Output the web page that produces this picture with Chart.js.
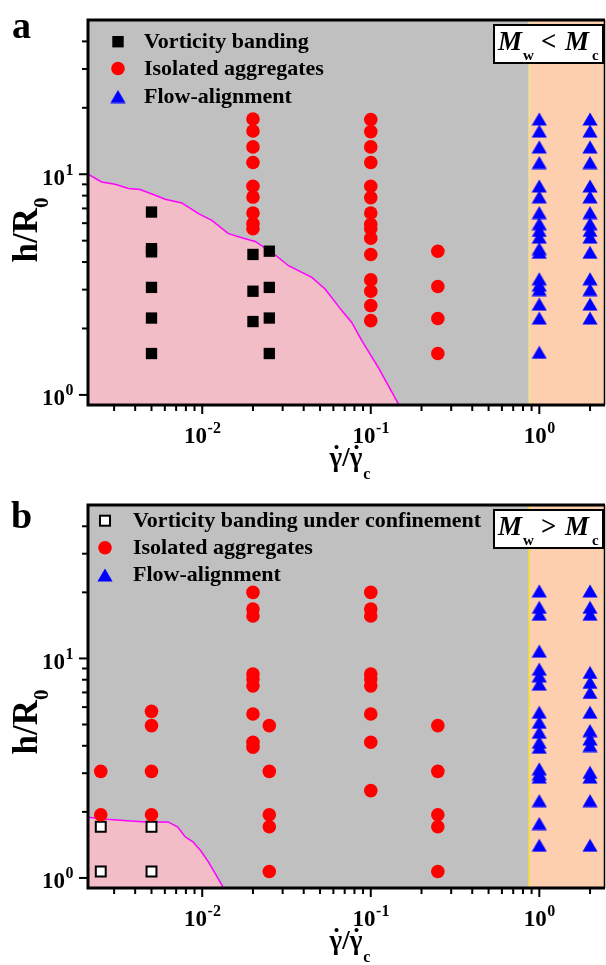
<!DOCTYPE html>
<html>
<head>
<meta charset="utf-8">
<script src="https://cdn.jsdelivr.net/npm/chart.js@4.4.0/dist/chart.umd.min.js"></script>
<style>
html,body{margin:0;padding:0;background:#fff;}
#wrap{position:relative;width:606px;height:965px;}
canvas{position:absolute;left:0;}
</style>
</head>
<body>
<div id="wrap">
<canvas id="chartA" width="606" height="482" style="top:0px"></canvas>
<canvas id="chartB" width="606" height="483" style="top:482px"></canvas>
</div>
<script>
// axis ranges (shear rate ratio, h/R0)
const xMin = 0.0021, xMax = 2.42;
const yMin = 0.9, yMax = 50;
const flowBoundary = 0.87;   // start of the flow-aligned (orange) zone

// ---- panel a : Mw < Mc ----
const aBandX = [0.005, 0.005, 0.005, 0.005, 0.005, 0.005, 0.02, 0.02, 0.02, 0.025, 0.025, 0.025, 0.025];
const aBandY = [6.74, 4.6, 4.45, 3.07, 2.23, 1.54, 4.33, 2.95, 2.15, 4.48, 3.07, 2.23, 1.54];

const aAggX = [0.02, 0.02, 0.02, 0.02, 0.02, 0.02, 0.02, 0.02, 0.02,
  0.1, 0.1, 0.1, 0.1, 0.1, 0.1, 0.1, 0.1, 0.1, 0.1, 0.1, 0.1, 0.1, 0.1, 0.1,
  0.25, 0.25, 0.25, 0.25];
const aAggY = [17.8, 15.7, 13.3, 11.3, 8.82, 7.88, 6.67, 5.97, 5.66,
  17.7, 15.6, 13.3, 11.3, 8.82, 7.83, 6.67, 5.93, 5.66, 5.13, 4.33, 3.32, 2.95, 2.54, 2.17,
  4.48, 3.1, 2.22, 1.54];

const aFlowX = [1, 1, 1, 1, 1, 1, 1, 1, 1, 1, 1, 1, 1, 1, 1, 1, 1, 1,
  2, 2, 2, 2, 2, 2, 2, 2, 2, 2, 2, 2, 2, 2, 2];
const aFlowY = [17.8, 15.7, 13.3, 11.3, 8.85, 7.9, 6.7, 5.97, 5.56, 5.19, 4.6, 4.43, 3.36, 3.15, 3.0, 2.58, 2.23, 1.56,
  17.8, 15.7, 13.3, 11.3, 8.85, 7.9, 6.7, 5.97, 5.56, 5.19, 4.43, 3.36, 3.0, 2.58, 2.23];

const aCurveX = [0.0021, 0.00253, 0.00304, 0.00365, 0.00428, 0.00526, 0.00603, 0.00757, 0.0095, 0.0114, 0.0143,
  0.018, 0.0206, 0.0259, 0.0325, 0.0447, 0.0536, 0.0673, 0.0771, 0.0885, 0.111, 0.15];
const aCurveY = [10.0, 9.23, 9.01, 8.61, 8.52, 8.03, 7.7, 7.41, 6.63, 6.18, 5.38,
  5.1, 4.96, 4.43, 3.85, 3.41, 3.02, 2.41, 2.13, 1.76, 1.33, 0.875];

// ---- panel b : Mw > Mc ----
const bBandX = [0.0025, 0.0025, 0.005, 0.005];
const bBandY = [1.71, 1.07, 1.71, 1.07];

const bAggX = [0.0025, 0.0025,
  0.005, 0.005, 0.005, 0.005,
  0.02, 0.02, 0.02, 0.02, 0.02, 0.02, 0.02, 0.02, 0.02,
  0.025, 0.025, 0.025, 0.025, 0.025,
  0.1, 0.1, 0.1, 0.1, 0.1, 0.1, 0.1, 0.1, 0.1,
  0.25, 0.25, 0.25, 0.25, 0.25];
const bAggY = [3.06, 1.94,
  5.74, 4.94, 3.06, 1.94,
  20, 16.8, 15.6, 8.49, 8.06, 7.5, 5.58, 4.15, 3.94,
  4.94, 3.06, 1.94, 1.71, 1.07,
  20, 16.8, 15.6, 8.49, 8.06, 7.5, 5.58, 4.15, 2.5,
  4.94, 3.06, 1.94, 1.71, 1.07];

const bFlowX = [1, 1, 1, 1, 1, 1, 1, 1, 1, 1, 1, 1, 1, 1, 1, 1, 1, 1,
  2, 2, 2, 2, 2, 2, 2, 2, 2, 2, 2, 2, 2, 2];
const bFlowY = [20.3, 17.1, 15.9, 10.8, 8.94, 8.33, 7.64, 5.69, 5.12, 4.61, 4.15, 3.94, 3.14, 2.98, 2.88, 2.25, 1.77, 1.41,
  20.3, 17.1, 15.9, 8.63, 7.78, 7.0, 5.69, 4.69, 4.3, 4.01, 3.03, 2.88, 2.25, 1.41];

const bCurveX = [0.0021, 0.00274, 0.00357, 0.00466, 0.00627, 0.00713, 0.00792, 0.00881, 0.0098, 0.0109, 0.0121, 0.0135];
const bCurveY = [1.89, 1.85, 1.82, 1.80, 1.80, 1.71, 1.54, 1.46, 1.33, 1.18, 1.03, 0.89];

const SERIF = '"Liberation Serif", "Times New Roman", serif';

function pts(xs, ys){
    let out = [];
    for(let i=0;i<xs.length;i++){
        out.push({x: xs[i], y: ys[i]});
    }
    return out;
}

// blue triangle marker, centred on its bounding box like the original
function makeTriangle(){
    const c = document.createElement('canvas');
    c.width = 16; c.height = 14;
    const g = c.getContext('2d');
    g.fillStyle = '#0000ff';
    g.beginPath();
    g.moveTo(8, 0.5);
    g.lineTo(15.6, 13.5);
    g.lineTo(0.4, 13.5);
    g.closePath();
    g.fill();
    return c;
}
const triImg = makeTriangle();

function drawMarker(ctx, kind, x, y){
    ctx.save();
    if(kind=='square'){
        ctx.fillStyle = '#000';
        ctx.fillRect(x-5.7, y-5.7, 11.4, 11.4);
    } else if(kind=='open'){
        ctx.fillStyle = '#fff';
        ctx.fillRect(x-5, y-5, 10, 10);
        ctx.strokeStyle = '#000';
        ctx.lineWidth = 2;
        ctx.strokeRect(x-5, y-5, 10, 10);
    } else if(kind=='circle'){
        ctx.fillStyle = '#ff0000';
        ctx.beginPath();
        ctx.arc(x, y, 6.8, 0, Math.PI*2);
        ctx.fill();
    } else {
        ctx.drawImage(triImg, x-8, y-7);
    }
    ctx.restore();
}

// "10" with a superscript exponent
function powWidth(ctx, exp){
    ctx.font = 'bold 23px ' + SERIF;
    let w = ctx.measureText('10').width;
    ctx.font = 'bold 16px ' + SERIF;
    return w + ctx.measureText(exp).width;
}
function drawPow(ctx, exp, left, base){
    ctx.font = 'bold 23px ' + SERIF;
    ctx.fillText('10', left, base);
    let w = ctx.measureText('10').width;
    ctx.font = 'bold 16px ' + SERIF;
    ctx.fillText(exp, left + w + 0.5, base - 10);
}

// gamma with a dot above it, returns advance width
function dotGamma(ctx, x, base){
    ctx.font = 'bold 27px ' + SERIF;
    const w = ctx.measureText('γ').width;
    ctx.fillText('γ', x, base);
    ctx.textAlign = 'center';
    ctx.fillText('\u02D9', x + w/2 + 0.5, base - 2);
    ctx.textAlign = 'left';
    return w;
}

function panelPlugin(p){
    return {
        id: 'panel' + p.letter,
        beforeDraw(chart){
            const ctx = chart.ctx;
            const a = chart.chartArea;
            const xs = chart.scales.x;
            ctx.save();
            ctx.fillStyle = '#fff';
            ctx.fillRect(0, 0, chart.width, chart.height);
            ctx.fillStyle = '#c0c0c0';
            ctx.fillRect(a.left, a.top, a.right - a.left, a.bottom - a.top);
            const bx = xs.getPixelForValue(flowBoundary);
            ctx.fillStyle = '#fdcfae';
            ctx.fillRect(bx, a.top, a.right - bx, a.bottom - a.top);
            ctx.strokeStyle = p.yellow;
            ctx.lineWidth = 1.5;
            ctx.beginPath();
            ctx.moveTo(bx, a.top);
            ctx.lineTo(bx, a.bottom);
            ctx.stroke();
            ctx.restore();
        },
        afterDraw(chart){
            const ctx = chart.ctx;
            const a = chart.chartArea;
            const xs = chart.scales.x;
            const ys = chart.scales.y;
            ctx.save();
            ctx.fillStyle = '#000';
            ctx.strokeStyle = '#000';

            // frame
            ctx.lineWidth = 1.5;
            ctx.beginPath();
            ctx.moveTo(a.right + 0.5, a.top);
            ctx.lineTo(a.right + 0.5, a.bottom);
            ctx.stroke();
            ctx.lineWidth = 3;
            ctx.beginPath();
            ctx.moveTo(a.right + 1, a.top);
            ctx.lineTo(a.left, a.top);
            ctx.lineTo(a.left, a.bottom);
            ctx.lineTo(a.right + 1, a.bottom);
            ctx.stroke();

            // ticks
            ctx.lineWidth = 2;
            for(let e=-3;e<=1;e++){
                for(let m=1;m<=9;m++){
                    const v = m*Math.pow(10, e);
                    if(v<=xMin*1.02 || v>=xMax*0.99) continue;
                    const px = xs.getPixelForValue(v);
                    ctx.beginPath();
                    ctx.moveTo(px, a.bottom + 1);
                    ctx.lineTo(px, a.bottom + (m==1 ? 9 : 6));
                    ctx.stroke();
                }
            }
            for(let e=-1;e<=1;e++){
                for(let m=1;m<=9;m++){
                    const v = m*Math.pow(10, e);
                    if(v<=yMin*1.02 || v>=yMax*0.99) continue;
                    const py = ys.getPixelForValue(v);
                    ctx.beginPath();
                    ctx.moveTo(a.left - 1, py);
                    ctx.lineTo(a.left - (m==1 ? 9 : 6), py);
                    ctx.stroke();
                }
            }

            // tick labels
            ctx.textAlign = 'left';
            ctx.textBaseline = 'alphabetic';
            [[0.01,'-2'],[0.1,'-1'],[1,'0']].forEach(t => {
                const px = xs.getPixelForValue(t[0]);
                const w = powWidth(ctx, t[1]);
                drawPow(ctx, t[1], px - w/2, a.bottom + 38);
            });
            [[1,'0'],[10,'1']].forEach(t => {
                const py = ys.getPixelForValue(t[0]);
                const w = powWidth(ctx, t[1]);
                drawPow(ctx, t[1], 73 - w, py + 10.5);
            });

            // x title: gamma-dot / gamma-dot_c
            const cx = (a.left + a.right)/2 + 4;
            ctx.font = 'bold 27px ' + SERIF;
            const wg = ctx.measureText('γ').width;
            const wsl = ctx.measureText('/').width;
            ctx.font = 'bold 16px ' + SERIF;
            const wsub = ctx.measureText('c').width;
            const total = wg*2 + wsl + wsub + 1;
            let x0 = cx - total/2;
            const base = a.bottom + 61;
            x0 += dotGamma(ctx, x0, base);
            ctx.font = 'bold 27px ' + SERIF;
            ctx.fillText('/', x0, base);
            x0 += wsl;
            x0 += dotGamma(ctx, x0, base);
            ctx.font = 'bold 16px ' + SERIF;
            ctx.fillText('c', x0 + 1, base + 13);

            // y title
            ctx.save();
            ctx.translate(37, p.yTitle);
            ctx.rotate(-Math.PI/2);
            ctx.font = 'bold 35px ' + SERIF;
            const wh = ctx.measureText('h/R').width;
            ctx.font = 'bold 21px ' + SERIF;
            const w0 = ctx.measureText('0').width;
            ctx.font = 'bold 35px ' + SERIF;
            ctx.fillText('h/R', -(wh + w0)/2, 0);
            ctx.font = 'bold 21px ' + SERIF;
            ctx.fillText('0', -(wh + w0)/2 + wh, 11);
            ctx.restore();

            // panel letter
            ctx.font = 'bold 38px ' + SERIF;
            ctx.fillText(p.letter, p.letterX, p.letterY);

            // legend
            ctx.font = 'bold 22px ' + SERIF;
            p.legend.forEach((row, i) => {
                const y = p.legendY[i];
                drawMarker(ctx, row[0], p.legendMarkX, y);
                ctx.fillStyle = '#000';
                ctx.fillText(row[1], p.legendTextX, y + 6);
            });

            // Mw vs Mc box
            const bx0 = 494, bw = 109, bh = 38, by0 = p.boxTop;
            ctx.fillStyle = '#fff';
            ctx.fillRect(bx0, by0, bw, bh);
            ctx.lineWidth = 2;
            ctx.strokeStyle = '#000';
            ctx.strokeRect(bx0, by0, bw, bh);
            ctx.fillStyle = '#000';
            ctx.font = 'italic bold 27px ' + SERIF;
            ctx.fillText('M', 498, by0 + 25);
            ctx.font = 'bold 15px ' + SERIF;
            ctx.fillText('w', 523, by0 + 35);
            ctx.font = 'bold 27px ' + SERIF;
            ctx.fillText(p.sign, 541, by0 + 25);
            ctx.font = 'italic bold 27px ' + SERIF;
            ctx.fillText('M', 565, by0 + 25);
            ctx.font = 'bold 15px ' + SERIF;
            ctx.fillText('c', 592, by0 + 35);

            ctx.restore();
        }
    };
}

function makeChart(id, d, p, top){
    const ctx = document.getElementById(id).getContext('2d');
    const bandStyle = d.open
        ? {pointStyle: 'rect', pointRadius: 7, backgroundColor: '#fff', borderColor: '#000', borderWidth: 2}
        : {pointStyle: 'rect', pointRadius: 8, backgroundColor: '#000', borderColor: '#000', borderWidth: 0};
    return new Chart(ctx, {
        type: 'scatter',
        data: {
            datasets: [
                Object.assign({label: 'Vorticity banding', data: pts(d.bandX, d.bandY), order: 2}, bandStyle),
                {label: 'Isolated aggregates', data: pts(d.aggX, d.aggY), order: 1,
                 pointStyle: 'circle', pointRadius: 6.8, backgroundColor: '#ff0000', borderWidth: 0},
                {label: 'Flow-alignment', data: pts(d.flowX, d.flowY), order: 1,
                 pointStyle: triImg, pointRadius: 8, backgroundColor: '#0000ff', borderWidth: 0},
                {type: 'line', label: 'boundary', data: pts(d.curveX, d.curveY), order: 5,
                 showLine: true, fill: 'start', pointRadius: 0, borderColor: '#ff00ff', borderWidth: 1.5,
                 backgroundColor: '#f2bdc6', tension: 0}
            ]
        },
        options: {
            responsive: false,
            animation: false,
            events: [],
            layout: {autoPadding: false, padding: {left: 88, top: top, right: 2, bottom: p.bottomPad}},
            plugins: {legend: {display: false}, tooltip: {enabled: false}},
            scales: {
                x: {type: 'logarithmic', min: xMin, max: xMax, display: false},
                y: {type: 'logarithmic', min: yMin, max: yMax, display: false}
            }
        },
        plugins: [panelPlugin(p)]
    });
}

makeChart('chartA',
    {bandX: aBandX, bandY: aBandY, aggX: aAggX, aggY: aAggY, flowX: aFlowX, flowY: aFlowY,
     curveX: aCurveX, curveY: aCurveY, open: false},
    {letter: 'a', letterX: 12, letterY: 38, yTitle: 230, bottomPad: 77, yellow: '#f0e68c',
     legend: [['square','Vorticity banding'],['circle','Isolated aggregates'],['tri','Flow-alignment']],
     legendY: [41.7, 68.5, 96.5], legendMarkX: 118, legendTextX: 144, boxTop: 25, sign: '<'},
    20);

makeChart('chartB',
    {bandX: bBandX, bandY: bBandY, aggX: bAggX, aggY: bAggY, flowX: bFlowX, flowY: bFlowY,
     curveX: bCurveX, curveY: bCurveY, open: true},
    {letter: 'b', letterX: 11, letterY: 46, yTitle: 240, bottomPad: 77, yellow: '#f5e62a',
     legend: [['open','Vorticity banding under confinement'],['circle','Isolated aggregates'],['tri','Flow-alignment']],
     legendY: [38.7, 65.7, 93], legendMarkX: 105, legendTextX: 133, boxTop: 28, sign: '>'},
    23);
</script>
</body>
</html>
